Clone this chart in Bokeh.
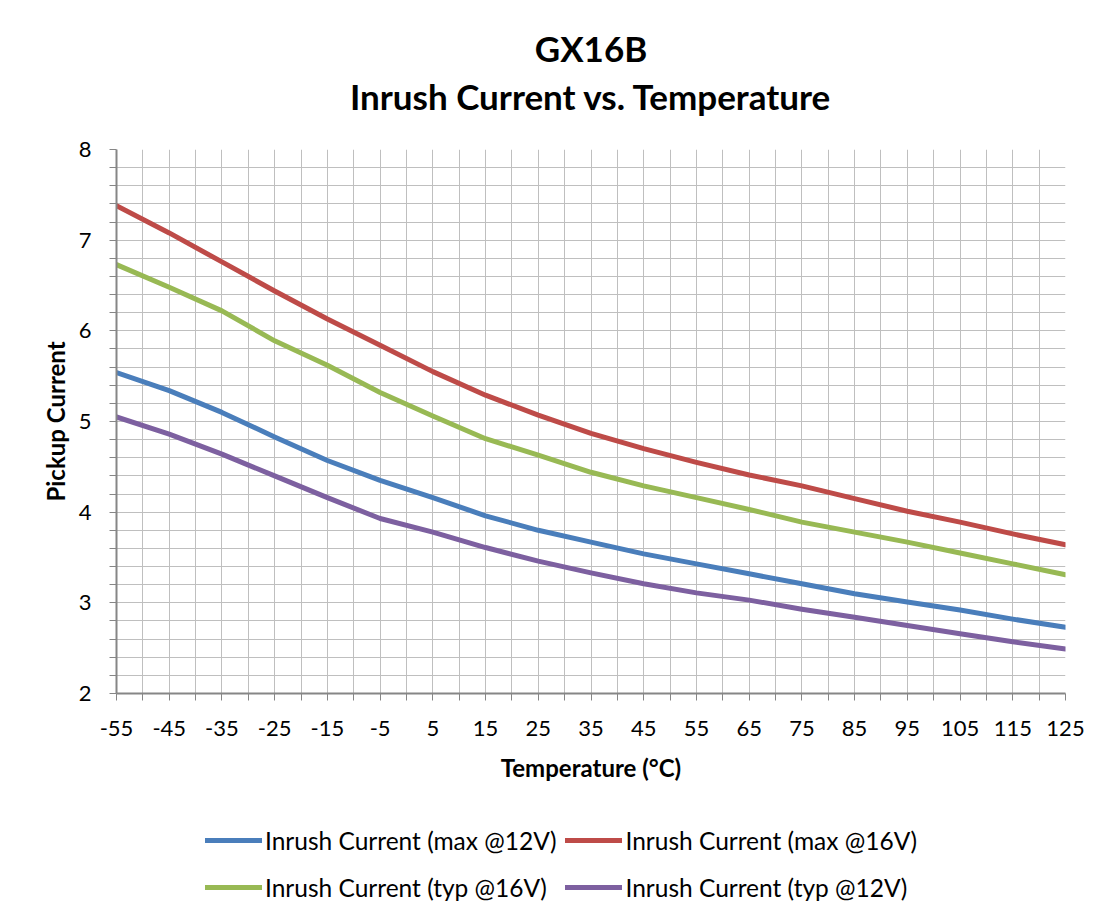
from bokeh.plotting import figure
from bokeh.layouts import column
from bokeh.models import FixedTicker, Legend, LegendItem, Range1d, Title
from bokeh.embed import file_html
from bokeh.resources import INLINE

# ---- data ----
temps = [-55, -45, -35, -25, -15, -5, 5, 15, 25, 35, 45, 55, 65, 75, 85, 95, 105, 115, 125]
max_12v = [5.54, 5.34, 5.10, 4.83, 4.57, 4.35, 4.16, 3.96, 3.80, 3.67, 3.54, 3.43, 3.32, 3.21, 3.10, 3.01, 2.92, 2.82, 2.73]
max_16v = [7.38, 7.08, 6.76, 6.44, 6.13, 5.84, 5.55, 5.29, 5.07, 4.87, 4.70, 4.55, 4.41, 4.29, 4.15, 4.01, 3.89, 3.76, 3.64]
typ_16v = [6.73, 6.48, 6.22, 5.89, 5.62, 5.32, 5.06, 4.81, 4.63, 4.44, 4.29, 4.16, 4.03, 3.89, 3.78, 3.67, 3.55, 3.43, 3.31]
typ_12v = [5.05, 4.86, 4.64, 4.40, 4.16, 3.93, 3.78, 3.61, 3.46, 3.33, 3.21, 3.11, 3.03, 2.93, 2.84, 2.75, 2.66, 2.57, 2.49]

series_names = ["Inrush Current (max @12V)", "Inrush Current (max @16V)",
                "Inrush Current (typ @16V)", "Inrush Current (typ @12V)"]
x_tick_labels = [str(t) for t in temps]
y_ticks = [2, 3, 4, 5, 6, 7, 8]
title_lines = ["GX16B", "Inrush Current vs. Temperature"]

FONT = "Lato"
AXIS_COL = "#868686"
GRID_COL = "#bfbfbf"
colors = ["#4A7EBB", "#BE4B48", "#98B954", "#7D60A0"]
data = [max_12v, max_16v, typ_16v, typ_12v]

p = figure(frame_width=949, frame_height=544,
           x_range=Range1d(-55, 125), y_range=Range1d(2, 8),
           output_backend="svg", toolbar_location=None,
           min_border_left=116, min_border_right=34,
           min_border_top=149, min_border_bottom=128,
           title=title_lines[0])
p.outline_line_color = None
p.background_fill_color = "white"
p.border_fill_color = "white"

p.title.align = "center"
p.title.text_font = FONT
p.title.text_font_style = "bold"
p.title.text_font_size = "35px"
p.title.text_color = "black"
p.title.standoff = 8
# invisible spacer between the title block and the plot area
p.add_layout(Title(text=" ", text_font_size="10px", standoff=20), "above")
p.add_layout(Title(text=title_lines[1], align="center", text_font=FONT, text_font_style="bold",
                   text_font_size="35px", text_color="black", standoff=0), "above")

# ticks / grid
x_minor = [t + 5 for t in temps[:-1]]
y_minor = [round(a + b / 5, 1) for a in y_ticks[:-1] for b in range(1, 5)]
p.xaxis.ticker = FixedTicker(ticks=temps, minor_ticks=x_minor)
p.yaxis.ticker = FixedTicker(ticks=y_ticks, minor_ticks=y_minor)
p.xgrid.ticker = FixedTicker(ticks=temps, minor_ticks=x_minor)
p.ygrid.ticker = FixedTicker(ticks=y_ticks, minor_ticks=y_minor)
for g in (p.xgrid, p.ygrid):
    g.grid_line_color = GRID_COL
    g.grid_line_width = 1
    g.minor_grid_line_color = GRID_COL
    g.minor_grid_line_width = 1

for ax in (p.xaxis, p.yaxis):
    ax.axis_line_color = AXIS_COL
    ax.axis_line_width = 2
    ax.major_tick_line_color = AXIS_COL
    ax.minor_tick_line_color = AXIS_COL
    ax.major_tick_in = 0
    ax.major_tick_out = 7
    ax.minor_tick_in = 0
    ax.minor_tick_out = 7
    ax.major_label_text_font = FONT
    ax.major_label_text_font_size = "22px"
    ax.major_label_text_color = "black"
    ax.axis_label_text_font = FONT
    ax.axis_label_text_font_style = "bold"
    ax.axis_label_text_font_size = "24px"
    ax.axis_label_text_color = "black"

p.xaxis.axis_label = "Temperature (°C)"
p.yaxis.axis_label = "Pickup Current"
p.xaxis.major_label_standoff = 20
p.yaxis.major_label_standoff = 18
p.xaxis.axis_label_standoff = 14
p.yaxis.axis_label_standoff = 6
p.xaxis.major_label_overrides = {t: l for t, l in zip(temps, x_tick_labels)}

for ys, c in zip(data, colors):
    p.line(temps, ys, line_color=c, line_width=5, line_cap="round", line_join="round")

# ---- legend strip below the chart (keys use the same series styles; the
#      series themselves lie outside this strip's visible range) ----
lf = figure(width=1099, height=94, x_range=Range1d(1000, 1001), y_range=Range1d(1000, 1001),
            output_backend="svg", toolbar_location=None,
            x_axis_location=None, y_axis_location=None, min_border=0)
lf.outline_line_color = None
lf.grid.visible = False
lf.background_fill_color = "white"
lf.border_fill_color = "white"
items = []
for name, ys, c in zip(series_names, data, colors):
    r = lf.line(temps, ys, line_color=c, line_width=5, line_cap="round")
    items.append(LegendItem(label=name, renderers=[r]))

legend = Legend(items=items, ncols=2, orientation="horizontal")
legend.label_text_font = FONT
legend.label_text_font_size = "24.5px"
legend.label_text_color = "black"
legend.glyph_width = 57
legend.glyph_height = 38
legend.label_height = 38
legend.label_standoff = 3
legend.spacing = 9
legend.padding = 0
legend.margin = 0
legend.border_line_color = None
legend.background_fill_alpha = 0
legend.location = (89, 9)
lf.add_layout(legend, "center")

layout = column(p, lf, spacing=0)
open("out.html", "w").write(file_html(layout, INLINE))
